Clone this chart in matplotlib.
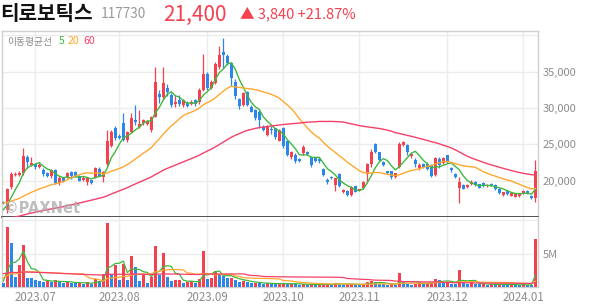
import numpy as np
import pandas as pd
import matplotlib
matplotlib.use("Agg")
import matplotlib.pyplot as plt

plt.rcParams['font.family'] = ['Noto Sans CJK KR', 'DejaVu Sans']

# ---------------- data ----------------
holidays = ['2023-08-15', '2023-09-28', '2023-09-29', '2023-10-02', '2023-10-03',
            '2023-10-09', '2023-12-25', '2023-12-29', '2024-01-01']
dates = [d for d in pd.bdate_range('2023-06-21', '2024-01-05')
         if d.strftime('%Y-%m-%d') not in holidays]

open_ = [17100, 16000, 19150, 20750, 20800, 21000, 23300, 22200, 22300, 21950,
         21450, 21050, 20600, 21450, 19650, 20350, 20450, 21150, 21200, 20700,
         20100, 19750, 20050, 20400, 21550, 20550, 22250, 24800, 27200, 26200,
         27900, 25600, 26750, 28400, 27450, 27900, 27850, 27000, 28800, 31900,
         31550, 32700, 31800, 30600, 31050, 30400, 30700, 30600, 31050, 30850,
         32450, 34700, 32750, 33500, 35600, 37650, 37200, 36250, 33600, 31200,
         30450, 32200, 30200, 29700, 29500, 27450, 26300, 27150, 27200, 25500,
         27200, 25400, 23200, 23600, 22950, 23750, 24000, 23300, 23200, 23050,
         21550, 20100, 20450, 19400, 20900, 18400, 18600, 18000, 19200, 18650,
         19000, 20900, 22300, 25000, 23900, 22600, 21300, 21300, 20500, 21900,
         24950, 24900, 23450, 22850, 21800, 22250, 22250, 22150, 20800, 23050,
         22400, 23550, 21700, 20900, 18950, 19400, 19150, 19500, 19780, 19500,
         19650, 19200, 19600, 19400, 18850, 18050, 18600, 17950, 17800, 17900,
         18270, 18600, 17950, 17600]
high = [17200, 19000, 21150, 21200, 21400, 24450, 23500, 23200, 22500, 22400,
        21700, 21200, 21600, 21600, 20600, 20500, 21200, 21400, 21300, 20800,
        20600, 20500, 20150, 21900, 21900, 21400, 26950, 27000, 27500, 26400,
        29300, 26900, 29300, 30400, 29700, 28500, 28400, 28900, 35600, 32500,
        35600, 33300, 32000, 31800, 31800, 31200, 30900, 31100, 31200, 32700,
        37500, 35000, 33800, 36300, 38600, 39600, 37500, 36400, 34000, 31400,
        32200, 32400, 30400, 29900, 29700, 27600, 27600, 27550, 27300, 27100,
        27400, 25600, 24100, 23800, 23100, 24900, 24100, 23400, 23300, 23200,
        21700, 20300, 20600, 20400, 21000, 18800, 18700, 19300, 19300, 18900,
        19950, 22400, 24300, 25200, 24000, 22700, 21400, 21400, 21100, 25300,
        25500, 25100, 23800, 23100, 22400, 22400, 22600, 22300, 23200, 23300,
        23300, 23600, 21950, 21000, 20550, 19500, 19500, 20100, 19900, 19600,
        19750, 19500, 19700, 19500, 18950, 18500, 18700, 18350, 18200, 18250,
        18700, 18700, 18050, 22850]
low = [16800, 15500, 18900, 20600, 20600, 20800, 21700, 22000, 21600, 21800,
       20700, 20500, 20400, 19500, 19400, 19800, 20300, 20200, 20500, 19900,
       20000, 19350, 19500, 20300, 20600, 19750, 22000, 24600, 25600, 25700,
       25400, 25300, 26500, 27700, 27300, 27700, 27700, 26700, 28700, 30650,
       31300, 31600, 30200, 30100, 30300, 30200, 30100, 30400, 30300, 30600,
       32300, 32500, 32600, 33300, 35400, 35500, 35900, 33000, 31300, 29900,
       30300, 30300, 29400, 28300, 27300, 26800, 26100, 26400, 25800, 25400,
       24500, 23400, 23000, 22500, 22600, 23600, 23600, 21900, 22600, 22500,
       20700, 19600, 20200, 18600, 19100, 18300, 17900, 17900, 18400, 18550,
       18900, 19700, 21900, 23800, 22700, 22000, 20900, 20200, 20400, 21700,
       24800, 23500, 23100, 21900, 21500, 21800, 21500, 20550, 20700, 21700,
       22300, 22400, 21200, 20350, 16900, 18800, 19050, 19400, 19300, 18950,
       19100, 19100, 19300, 18750, 18200, 17950, 18050, 17850, 17700, 17750,
       18150, 18200, 17450, 17000]
close = [16900, 18800, 20900, 20900, 21100, 23400, 22600, 22400, 21900, 22150,
         20900, 20650, 21450, 19650, 20400, 19950, 21050, 20700, 20700, 20000,
         20400, 20400, 19650, 21700, 20700, 21250, 25450, 26750, 25850, 25850,
         25600, 26750, 28600, 28100, 27750, 28350, 28250, 28700, 33600, 31550,
         33400, 32250, 30400, 30850, 30600, 31050, 30300, 30850, 30500, 32450,
         34750, 32700, 33550, 36100, 37300, 37250, 36200, 34200, 31700, 30300,
         32000, 30450, 29500, 28600, 28350, 27000, 27450, 26950, 25950, 26950,
         24800, 23600, 24000, 22700, 22750, 24650, 23700, 22200, 22750, 22700,
         20800, 19800, 20300, 20300, 19300, 18700, 18000, 19150, 18500, 18800,
         19850, 22300, 24000, 23900, 22850, 22100, 21000, 20500, 21000, 25000,
         25300, 24000, 23650, 22250, 22150, 21950, 21600, 20700, 23100, 22150,
         23100, 22550, 21450, 20550, 19870, 18850, 19400, 19780, 19400, 19050,
         19200, 19400, 19400, 18850, 18270, 18400, 18150, 18250, 18100, 18150,
         18600, 18300, 17560, 21400]
volume = [0.6, 9.0, 6.6, 1.5, 3.25, 6.3, 1.35, 1.3, 1.1, 0.85,
          0.75, 0.95, 0.8, 1.0, 0.7, 0.6, 0.9, 0.6, 0.55, 0.6,
          0.5, 0.7, 0.45, 1.2, 0.9, 1.9, 9.6, 1.9, 3.25, 1.1,
          3.5, 1.0, 4.7, 3.0, 0.9, 1.75, 0.6, 1.5, 6.1, 1.75,
          5.1, 1.5, 0.9, 1.0, 1.1, 0.6, 0.75, 0.9, 0.6, 1.2,
          5.3, 1.2, 1.3, 2.4, 1.75, 1.7, 1.3, 1.3, 1.1, 0.8,
          0.9, 0.8, 0.6, 0.6, 0.55, 0.5, 0.6, 0.5, 0.4, 0.5,
          0.6, 0.45, 0.5, 0.45, 0.35, 0.45, 0.3, 0.5, 0.3, 0.3,
          0.45, 0.5, 0.3, 0.55, 0.5, 0.35, 0.4, 0.5, 0.3, 0.25,
          0.5, 0.75, 0.85, 0.75, 0.5, 0.4, 0.3, 0.4, 0.35, 2.1,
          0.7, 0.5, 0.35, 0.45, 0.8, 0.4, 0.55, 0.8, 1.15, 1.1,
          0.75, 0.75, 0.5, 0.4, 2.5, 0.7, 0.5, 0.7, 0.5, 0.4,
          0.45, 0.3, 0.4, 0.35, 0.45, 0.4, 0.3, 0.35, 0.3, 0.25,
          0.4, 0.35, 0.3, 7.1]  # millions of shares

# estimated history before the visible window (only feeds the moving averages)
pre_close = [14600, 14500, 14300, 14500, 14400, 14200, 14600, 14500, 14300, 14400,
             14500, 14300, 14200, 14400, 13600, 13300, 13100, 12900, 13000, 12800,
             12700, 12900, 12800, 12600, 12800, 12900, 12700, 12800, 13000, 12900,
             12800, 13000, 13100, 13500, 13800, 13700, 14000, 14100, 14200, 14400,
             17400, 17200, 17500, 17100, 17300, 17000, 17200, 17400, 17100, 17300,
             17000, 17200, 17500, 17300, 17100, 15400, 15600, 15800, 16300]
pre_volume = [2.2, 2.5, 1.9, 2.3, 2.8, 2.1, 1.9, 2.6, 2.2, 2.0,
              2.7, 2.3, 1.9, 2.4, 2.9, 2.2, 2.0, 2.3, 2.6, 2.1,
              1.9, 2.4, 2.3, 2.0, 2.7, 2.1, 2.3, 2.6, 2.0, 2.4,
              2.1, 2.3, 2.7, 2.0, 2.3, 2.6, 2.1, 2.4, 2.3, 3.0,
              1.8, 1.5, 1.7, 1.4, 1.6, 1.3, 1.5, 1.8, 1.4, 1.6,
              1.3, 1.5, 1.7, 1.4, 1.2, 1.0, 0.9, 1.1, 0.8]

ma_windows = [5, 20, 60]
ma_colors = ['#3fb83f', '#ffa82e', '#f5406a']
y_ticks = [20000, 25000, 30000, 35000]
y_ticklabels = ['20,000', '25,000', '30,000', '35,000']
vol_ticks = [5]
vol_ticklabels = ['5M']

# ---------------- derived ----------------
n = len(close)
x = np.arange(n)
o = np.array(open_); h = np.array(high); l = np.array(low); c = np.array(close)
v = np.array(volume)
full_c = pd.Series(pre_close + close)
full_v = pd.Series(pre_volume + volume)
npre = len(pre_close)

RED = '#f5414f'
BLUE = '#2b87e9'
up = c >= o
ccol = np.where(up, RED, BLUE)
vprev = np.concatenate([[pre_volume[-1]], v[:-1]])
vcol = np.where(v >= vprev, RED, BLUE)

fig = plt.figure(figsize=(5.94, 3.04), dpi=100)
W, H = 594, 304
def rect(x0, y0, x1, y1):
    return [x0 / W, 1 - y1 / H, (x1 - x0) / W, (y1 - y0) / H]

ax = fig.add_axes(rect(2, 31, 538, 217))
axv = fig.add_axes(rect(2, 217, 538, 287), sharex=ax)

ax.set_xlim(-0.33, n - 0.33)
ax.set_ylim(15000, 40600)
axv.set_ylim(0, 10.45)

# month ticks at first trading day of each month
months = pd.Series([d.strftime('%Y.%m') for d in dates])
tick_pos = [i for i in range(n) if i == 0 or months[i] != months[i - 1]][1:]
tick_lab = [months[i] for i in tick_pos]

for a in (ax, axv):
    a.set_facecolor('white')
    for xp in tick_pos:
        a.axvline(xp, color='#ececec', lw=1, zorder=0)
for yt in y_ticks + [40000]:
    ax.axhline(yt, color='#ececec', lw=1, zorder=0)
for yt in vol_ticks + [10]:
    axv.axhline(yt, color='#ececec', lw=1, zorder=0)

# candles
bw = 0.68
ax.vlines(x, l, h, colors=ccol, lw=0.9, zorder=3)
body_h = np.maximum(np.abs(c - o), 60)
ax.bar(x, body_h, bottom=np.minimum(o, c), width=bw, color=ccol, lw=0, zorder=4)

# moving averages
for w, col in zip(ma_windows, ma_colors):
    ma = full_c.rolling(w).mean().values[npre:]
    ax.plot(x, ma, color=col, lw=1.0, zorder=5)
    mav = full_v.rolling(w).mean().values[npre:]
    axv.plot(x, mav, color=col, lw=0.9, zorder=5)

# volume
axv.bar(x, v, width=0.75, color=vcol, lw=0, zorder=3)

# axes styling
ax.yaxis.tick_right()
ax.set_yticks(y_ticks)
ax.set_yticklabels(y_ticklabels)
axv.yaxis.tick_right()
axv.set_yticks(vol_ticks)
axv.set_yticklabels(vol_ticklabels)
for a in (ax, axv):
    a.tick_params(axis='y', length=0, pad=3.5, labelsize=8.0, labelcolor='#8c8c8c')
ax.tick_params(axis='x', length=0, labelbottom=False)
axv.set_xticks(tick_pos)
axv.set_xticklabels(tick_lab)
axv.tick_params(axis='x', length=0, pad=3, labelsize=8.3, labelcolor='#8c8c8c')

for a in (ax, axv):
    for s in a.spines.values():
        s.set_color('#d0d0d0')
        s.set_linewidth(1)
ax.spines['bottom'].set_color('#333333')
ax.spines['bottom'].set_linewidth(1.2)
axv.spines['top'].set_visible(False)

# watermark
ax.text(0.003, 0.022, '©PAXNet', transform=ax.transAxes, fontsize=10.5,
        fontweight='bold', color='#a9a9a9', alpha=0.75, zorder=6,
        family='DejaVu Sans')

# legend (positions in figure pixels)
leg_y = 1 - 41.5 / H
fig.text(7 / W, leg_y, '이동평균선', fontsize=7.0, color='#8a8a8a', va='center')
fig.text(59 / W, leg_y, '5', fontsize=7.6, color=ma_colors[0], va='center')
fig.text(68 / W, leg_y, '20', fontsize=7.6, color=ma_colors[1], va='center')
fig.text(83 / W, leg_y, '60', fontsize=7.6, color=ma_colors[2], va='center')

# title
fig.text(0 / W, 1 - 20 / H, '티로보틱스', fontsize=14.5, fontweight='bold', color='#111111')
fig.text(101 / W, 1 - 18.5 / H, '117730', fontsize=9.8, color='#999999')
fig.text(163 / W, 1 - 20.5 / H, '21,400', fontsize=15, color='#f5414f')
fig.text(240 / W, 1 - 18.5 / H, '▲ 3,840 +21.87%', fontsize=10.5, color='#f5414f')

fig.savefig('out.png', dpi=100, facecolor='white')
